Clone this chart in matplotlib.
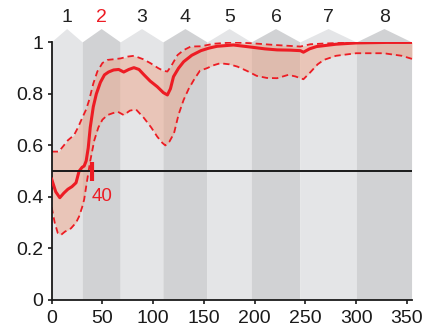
import matplotlib
matplotlib.use("Agg")
import matplotlib.pyplot as plt
import numpy as np

plt.rcParams["font.family"] = ["Liberation Sans", "DejaVu Sans"]

RED = "#ed1c24"

# block boundaries along the trial axis, labels above each block
block_edges = [0, 30.5, 68, 110, 153.5, 197, 245, 300.5, 355]
block_labels = ["1", "2", "3", "4", "5", "6", "7", "8"]

# mean performance curve
mean_x = [0, 4, 8, 12, 16, 20, 24, 27, 30, 32, 34, 36, 38, 41, 44, 48, 52, 56,
          61, 66, 71, 76, 81, 86, 91, 97, 104, 110, 114, 117, 120, 125, 130,
          138, 147, 155, 163, 179, 196, 210, 222, 235, 245, 248, 254, 261, 280,
          300, 330, 355]
mean_y = [0.469, 0.42, 0.397, 0.415, 0.43, 0.44, 0.455, 0.50, 0.515, 0.52, 0.54,
          0.59, 0.67, 0.75, 0.80, 0.845, 0.874, 0.885, 0.893, 0.895, 0.885,
          0.895, 0.902, 0.895, 0.874, 0.85, 0.828, 0.805, 0.796, 0.82, 0.867,
          0.90, 0.925, 0.95, 0.968, 0.978, 0.985, 0.99, 0.982, 0.975, 0.971,
          0.97, 0.968, 0.962, 0.975, 0.984, 0.993, 0.998, 1.0, 1.0]

# confidence bounds
lower_x = [0, 3, 6, 9, 13, 19, 24, 27, 30, 32, 35, 38, 42, 46, 50, 55, 60, 65,
           71, 77, 83, 91, 98, 104, 109, 112, 116, 120.5, 125, 130, 135, 140,
           146, 153, 160, 166, 175, 183, 192, 202, 212, 222, 233, 240, 248, 255,
           262, 268, 280, 300, 327, 345, 355]
lower_y = [0.36, 0.30, 0.26, 0.252, 0.265, 0.278, 0.30, 0.324, 0.36, 0.39, 0.466,
           0.54, 0.62, 0.67, 0.70, 0.718, 0.725, 0.731, 0.718, 0.735, 0.74,
           0.706, 0.67, 0.634, 0.61, 0.60, 0.615, 0.647, 0.72, 0.777, 0.82,
           0.854, 0.89, 0.90, 0.912, 0.919, 0.915, 0.906, 0.89, 0.87, 0.862,
           0.861, 0.874, 0.868, 0.857, 0.885, 0.915, 0.932, 0.948, 0.958, 0.958,
           0.948, 0.936]
upper_x = [0, 7, 12, 16, 22, 26, 30, 34, 37, 41, 45, 50, 55, 62, 68, 75, 81, 90,
           97.5, 105, 110, 114, 118, 124, 130, 137, 147, 160, 179, 196, 220, 245,
           255, 270, 300, 355]
upper_y = [0.576, 0.576, 0.60, 0.62, 0.64, 0.67, 0.706, 0.74, 0.777, 0.84, 0.887,
           0.92, 0.932, 0.935, 0.938, 0.945, 0.948, 0.935, 0.919, 0.90, 0.89,
           0.887, 0.91, 0.951, 0.97, 0.984, 0.985, 0.995, 1.0, 0.997, 0.99,
           0.984, 0.993, 0.996, 1.0, 1.0]

chance = 0.5
marker_x = 40
marker_span = (0.46, 0.537)

fig = plt.figure(figsize=(4.27, 3.34), dpi=100)
ax = fig.add_axes([0.121, 0.102, 0.844, 0.771])

# alternating block shading with pointed caps above the axes
for i in range(len(block_labels)):
    a, b = block_edges[i], block_edges[i + 1]
    mid = (a + b) / 2
    col = "#e4e5e7" if i % 2 == 0 else "#d1d2d4"
    ax.fill([a, b, b, mid, a], [0, 0, 1, 1.052, 1], color=col, lw=0,
            clip_on=False, zorder=0)
    ax.text(mid, 1.095, block_labels[i], ha="center", va="center", fontsize=14,
            color=RED if block_labels[i] == "2" else "#222222")

# shared x grid for the ribbon
grid = np.union1d(lower_x, upper_x)
lo = np.interp(grid, lower_x, lower_y)
hi = np.interp(grid, upper_x, upper_y)
ax.fill_between(grid, lo, hi, color="#f0a080", alpha=0.45, lw=0, zorder=1)
ax.plot(lower_x, lower_y, color=RED, lw=1.3, ls=(0, (3.5, 2.2)), zorder=2)
ax.plot(upper_x, upper_y, color=RED, lw=1.3, ls=(0, (3.5, 2.2)), zorder=2)
ax.plot(mean_x, mean_y, color=RED, lw=2.2, zorder=3)

ax.axhline(chance, color="#1a1a1a", lw=1.4, zorder=4)
ax.plot([marker_x, marker_x], marker_span, color=RED, lw=3,
        solid_capstyle="butt", zorder=5)
ax.text(marker_x - 1, 0.40, str(marker_x), color=RED, fontsize=13.5,
        ha="left", va="center")

ax.set_xlim(0, 355)
ax.set_ylim(0, 1)
ax.set_xticks([0, 50, 100, 150, 200, 250, 300, 350])
ax.set_yticks([0, 0.2, 0.4, 0.6, 0.8, 1])
ax.set_yticklabels(["0", "0.2", "0.4", "0.6", "0.8", "1"])
for s in ["top", "right"]:
    ax.spines[s].set_visible(False)
for s in ["left", "bottom"]:
    ax.spines[s].set_linewidth(1.3)
    ax.spines[s].set_color("#1a1a1a")
ax.tick_params(direction="out", length=3, width=1.2, labelsize=14,
               colors="#1a1a1a", pad=3)
ax.tick_params(axis="x", pad=4)
ax.set_facecolor("none")

fig.savefig("out.png", dpi=100)
